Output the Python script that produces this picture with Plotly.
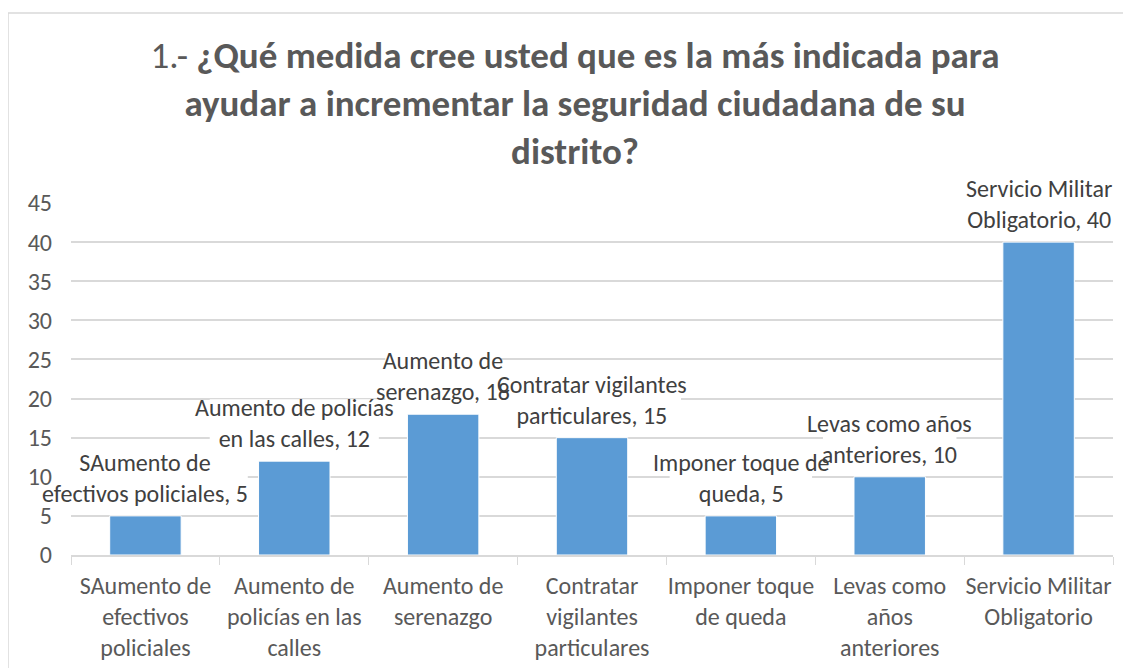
import plotly.graph_objects as go

categories = [
    "SAumento de efectivos policiales",
    "Aumento de policías en las calles",
    "Aumento de serenazgo",
    "Contratar vigilantes particulares",
    "Imponer toque de queda",
    "Levas como años anteriores",
    "Servicio Militar Obligatorio",
]
values = [5, 12, 18, 15, 5, 10, 40]
tick_labels = [
    "SAumento de<br>efectivos<br>policiales",
    "Aumento de<br>policías en las<br>calles",
    "Aumento de<br>serenazgo",
    "Contratar<br>vigilantes<br>particulares",
    "Imponer toque<br>de queda",
    "Levas como<br>años<br>anteriores",
    "Servicio Militar<br>Obligatorio",
]
data_label_names = [
    "SAumento de<br>efectivos policiales",
    "Aumento de policías<br>en las calles",
    "Aumento de<br>serenazgo",
    "Contratar vigilantes<br>particulares",
    "Imponer toque de<br>queda",
    "Levas como años<br>anteriores",
    "Servicio Militar<br>Obligatorio",
]
y_ticks = [0, 5, 10, 15, 20, 25, 30, 35, 40, 45]

FONT = "Carlito, Lato, sans-serif"
TXT = "#595959"
LBL = "#404040"
GRID = "#D9D9D9"

fig = go.Figure()
fig.add_trace(go.Bar(
    x=categories, y=values,
    marker=dict(color="#5B9BD5", line=dict(color="white", width=1)),
    width=0.48,
    hoverinfo="x+y",
))

for c, v, n in zip(categories, values, data_label_names):
    text = f"{n}, {v}"
    longest = max(len(s) for s in text.split("<br>"))
    half_w = longest * 8.9 / 2
    # white box behind the label, drawn between gridlines and bars
    fig.add_shape(
        type="rect", xref="x", yref="y",
        xsizemode="pixel", xanchor=c, x0=-half_w, x1=half_w,
        ysizemode="pixel", yanchor=v, y0=8, y1=62,
        fillcolor="white", line=dict(width=0), layer="between",
    )
    fig.add_annotation(
        x=c, y=v, xref="x", yref="y",
        text=text,
        showarrow=False, yanchor="bottom", yshift=6,
        font=dict(family=FONT, size=24, color=LBL),
    )

# page has an 8px body margin; compensate so screen positions match
OFF = 8
W, H = 1131, 668
L = 71 - OFF
T = 203 - OFF
R = W - (1113 - OFF)
B = H - (555 - OFF)
pw, ph = W - L - R, H - T - B
x0 = (8 - OFF - L) / pw
y1 = (H - B - (13 - OFF)) / ph
fig.add_shape(type="line", xref="paper", yref="paper", x0=x0, x1=x0, y0=-1, y1=y1,
              line=dict(color=GRID, width=1.5), layer="below")
fig.add_shape(type="line", xref="paper", yref="paper", x0=x0, x1=1.1, y0=y1, y1=y1,
              line=dict(color=GRID, width=1.5), layer="below")

fig.update_layout(
    width=W, height=H,
    margin=dict(l=L, r=R, t=T, b=B, autoexpand=False),
    paper_bgcolor="white", plot_bgcolor="white",
    showlegend=False,
    font=dict(family=FONT, color=TXT, size=24),
    title=dict(
        text="1.- <b>¿Qué medida cree usted que es la más indicada para<br>ayudar a incrementar la seguridad ciudadana de su<br>distrito?</b>",
        x=(575 - OFF) / W, xanchor="center", xref="container",
        y=1 - 60 / H, yanchor="top", yref="container",
        font=dict(family=FONT, size=37, color=TXT),
    ),
    xaxis=dict(
        tickmode="array", tickvals=categories, ticktext=tick_labels,
        range=[-0.5, 6.5], automargin=False, tickangle=0,
        tickson="boundaries", ticks="outside", ticklen=8, tickcolor=GRID,
        ticklabelstandoff=8,
        showline=True, linecolor=GRID, linewidth=1.5,
        showgrid=False, tickfont=dict(size=24, color=TXT),
    ),
    yaxis=dict(
        range=[0, 45], tickvals=y_ticks, showgrid=True, gridcolor=GRID, gridwidth=1.5,
        zeroline=False, showline=False, ticks="", ticklabelstandoff=18, automargin=False,
        tickfont=dict(size=24, color=TXT),
    ),
    bargap=0.52,
)

fig.write_html("out.html")
